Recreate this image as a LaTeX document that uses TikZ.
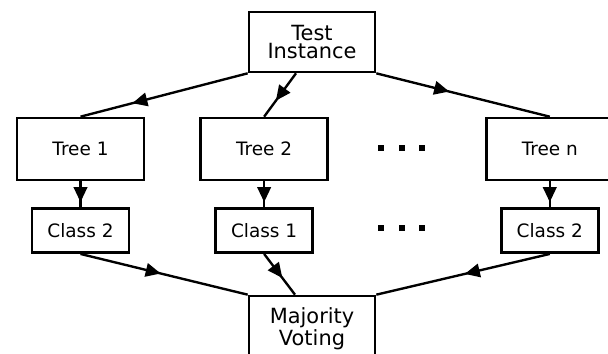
\documentclass[tikz,border=0pt]{standalone}
\usepackage{fontspec}
\setmainfont{DejaVu Sans}
\usetikzlibrary{positioning, arrows.meta, decorations.markings}

\begin{document}
\begin{tikzpicture}[
    treebox/.style={draw, line width=1.5pt, minimum width=2.54cm, minimum height=1.24cm, font=\fontsize{10.5}{12}\selectfont},
    endbox/.style={draw, line width=1.5pt, minimum width=2.52cm, minimum height=1.2cm, align=center, font=\fontsize{11.9}{10.6}\selectfont},
    classbox/.style={draw, line width=1.5pt, minimum width=1.94cm, minimum height=0.88cm, font=\fontsize{10.5}{12}\selectfont},
    flow/.style={line width=1.35pt, postaction={decorate}, decoration={markings, mark=at position #1 with {\arrow{Triangle[length=0.3cm, width=0.27cm]}}}},
    dotmark/.style={fill, inner sep=0pt, minimum size=0.12cm}
]
    \useasboundingbox (0,0) rectangle (12.16,7.08);
    \clip (0,0) rectangle (12.16,7.08);
    \node (test) [endbox] at (6.24,6.24) {Test\\Instance};
    \node (tree1) [treebox] at (1.61,4.10) {Tree 1};
    \node (tree2) [treebox, right=1.08cm of tree1] {Tree 2};
    \node (treen) [treebox, right=3.12cm of tree2] {Tree n};
    \node (class2a) [classbox, below=0.52cm of tree1] {Class 2};
    \node (class1) [classbox, below=0.52cm of tree2] {Class 1};
    \node (class2b) [classbox, below=0.52cm of treen] {Class 2};
    \node (vote) [endbox, minimum height=1.3cm] at (6.24,0.51) {Majority\\Voting};
    % dots between the columns
    \foreach \x [count=\i] in {7.62, 8.04, 8.44} {
        \node (dotA\i) [dotmark] at (\x,4.12) {};
        \node (dotB\i) [dotmark] at (\x,2.52) {};
    }
    % test instance to the trees
    \draw [flow=0.69] (test.south west) -- (tree1.north);
    \draw [flow=0.63] ([xshift=-0.32cm]test.south) -- (tree2.north);
    \draw [flow=0.42] (test.south east) -- (treen.north);
    \draw [flow=0.8] (tree1) -- (class2a);
    \draw [flow=0.8] (tree2) -- (class1);
    \draw [flow=0.8] (treen) -- (class2b);
    % votes
    \draw [flow=0.48] (class2a.south) -- (vote.north west);
    \draw [flow=0.59] (class1.south) -- ([xshift=-0.34cm]vote.north);
    \draw [flow=0.49] (class2b.south) -- (vote.north east);
\end{tikzpicture}
\end{document}
